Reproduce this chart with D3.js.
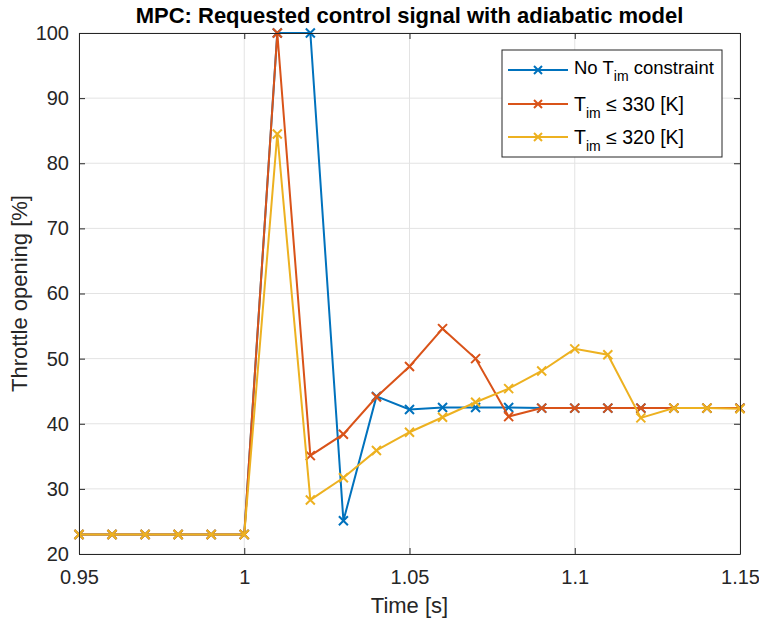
<!DOCTYPE html>
<html><head><meta charset="utf-8">
<script src="https://cdn.jsdelivr.net/npm/d3@7"></script>
<style>body{margin:0;background:#fff}svg{display:block}text{font-family:"Liberation Sans",Arial,sans-serif}</style>
</head><body><svg id="c" width="759" height="620"></svg>
<script>
const time = [0.95,0.96,0.97,0.98,0.99,1.00,1.01,1.02,1.03,1.04,1.05,1.06,1.07,1.08,1.09,1.10,1.11,1.12,1.13,1.14,1.15];
const noConstraint = [23,23,23,23,23,23,100,100,25.1,44.2,42.2,42.5,42.5,42.5,42.4,42.4,42.4,42.4,42.4,42.4,42.4];
const tim330 = [23,23,23,23,23,23,100,35.1,38.4,44.1,48.8,54.6,50,41.1,42.4,42.4,42.4,42.4,42.4,42.4,42.4];
const tim320 = [23,23,23,23,23,23,84.5,28.3,31.7,35.9,38.7,41,43.3,45.4,48.1,51.5,50.6,40.9,42.4,42.4,42.3];
const xTicks = [0.95,1,1.05,1.1,1.15];
const xTickLabels = ["0.95","1","1.05","1.1","1.15"];
const yTicks = [20,30,40,50,60,70,80,90,100];
const seriesNames = ["No T|im| constraint","T|im| \u2264 330 [K]","T|im| \u2264 320 [K]"];
const colors = ["#0072BD","#D95319","#EDB120"];

const svg = d3.select("#c");
const L=79,R=740,T=33,B=554;
const x = d3.scaleLinear().domain([0.95,1.15]).range([L,R]);
const y = d3.scaleLinear().domain([20,100]).range([B,T]);

// grid
const g = svg.append("g");
g.selectAll(".gx").data(xTicks).join("line").attr("x1",d=>x(d)).attr("x2",d=>x(d)).attr("y1",T).attr("y2",B).attr("stroke","#e3e3e3").attr("stroke-width",1);
g.selectAll(".gy").data(yTicks).join("line").attr("y1",d=>y(d)).attr("y2",d=>y(d)).attr("x1",L).attr("x2",R).attr("stroke","#e3e3e3").attr("stroke-width",1);

// axes
const ax = d3.axisBottom(x).tickValues(xTicks).tickFormat((d,i)=>xTickLabels[i]).tickSizeInner(-6).tickSizeOuter(0).tickPadding(14);
const ay = d3.axisLeft(y).tickValues(yTicks).tickSizeInner(-6).tickSizeOuter(0).tickPadding(10);
const axT = d3.axisTop(x).tickValues(xTicks).tickFormat("").tickSizeInner(-6).tickSizeOuter(0);
const ayR = d3.axisRight(y).tickValues(yTicks).tickFormat("").tickSizeInner(-6).tickSizeOuter(0);
function style(sel){sel.selectAll("path").attr("stroke","#262626");sel.selectAll("line").attr("stroke","#262626");sel.selectAll("text").attr("fill","#262626").style("font-size","20px").style("font-family","'Liberation Sans',Arial,sans-serif");}

// lines
const series=[noConstraint,tim330,tim320];
const line=d3.line().x((d,i)=>x(time[i])).y(d=>y(d));
series.forEach((s,k)=>{
  const sg=svg.append("g");
  sg.append("path").datum(s).attr("d",line).attr("fill","none").attr("stroke",colors[k]).attr("stroke-width",2).attr("stroke-linejoin","miter");
  sg.selectAll("path.m").data(s).join("path").attr("class","m").attr("d",(d,i)=>{const cx=x(time[i]),cy=y(d),r=4.5;return `M${cx-r},${cy-r}L${cx+r},${cy+r}M${cx-r},${cy+r}L${cx+r},${cy-r}`;}).attr("stroke",colors[k]).attr("stroke-width",2);
});

const gx=svg.append("g").attr("transform",`translate(0,${B})`).call(ax).call(style);
gx.selectAll("text").attr("dy","0.71em").attr("y",16);
svg.append("g").attr("transform",`translate(${L},0)`).call(ay).call(style);
svg.append("g").attr("transform",`translate(0,${T})`).call(axT).call(style);
svg.append("g").attr("transform",`translate(${R},0)`).call(ayR).call(style);

// title and labels
svg.append("text").attr("x",(L+R)/2).attr("y",23).attr("text-anchor","middle").style("font-size","22px").style("font-weight","bold").attr("fill","#000").text("MPC: Requested control signal with adiabatic model");
svg.append("text").attr("x",(L+R)/2).attr("y",613).attr("text-anchor","middle").style("font-size","22px").attr("fill","#262626").text("Time [s]");
svg.append("text").attr("transform",`translate(27,${(T+B)/2}) rotate(-90)`).attr("text-anchor","middle").style("font-size","22px").attr("fill","#262626").text("Throttle opening [%]");

// legend
const lg=svg.append("g");
lg.append("rect").attr("x",502).attr("y",50).attr("width",220).attr("height",107).attr("fill","#fff").attr("stroke","#262626").attr("stroke-width",1);
const rowsY=[70,104,137];
const baseY=[74,110.5,144];
const mainSize=[18.5,19.5,19.5];
seriesNames.forEach((n,k)=>{
  const yy=rowsY[k];
  lg.append("line").attr("x1",508).attr("x2",568).attr("y1",yy).attr("y2",yy).attr("stroke",colors[k]).attr("stroke-width",2);
  const r=4;
  lg.append("path").attr("d",`M${538-r},${yy-r}L${538+r},${yy+r}M${538-r},${yy+r}L${538+r},${yy-r}`).attr("stroke",colors[k]).attr("stroke-width",2);
  const parts=n.split("|");
  const t=lg.append("text").attr("x",574).attr("y",baseY[k]).style("font-size",mainSize[k]+"px").attr("fill","#000");
  t.append("tspan").text(parts[0]);
  t.append("tspan").attr("dy",7).style("font-size","14px").text(parts[1]);
  t.append("tspan").attr("dy",-7).text(parts[2]);
});
</script></body></html>
